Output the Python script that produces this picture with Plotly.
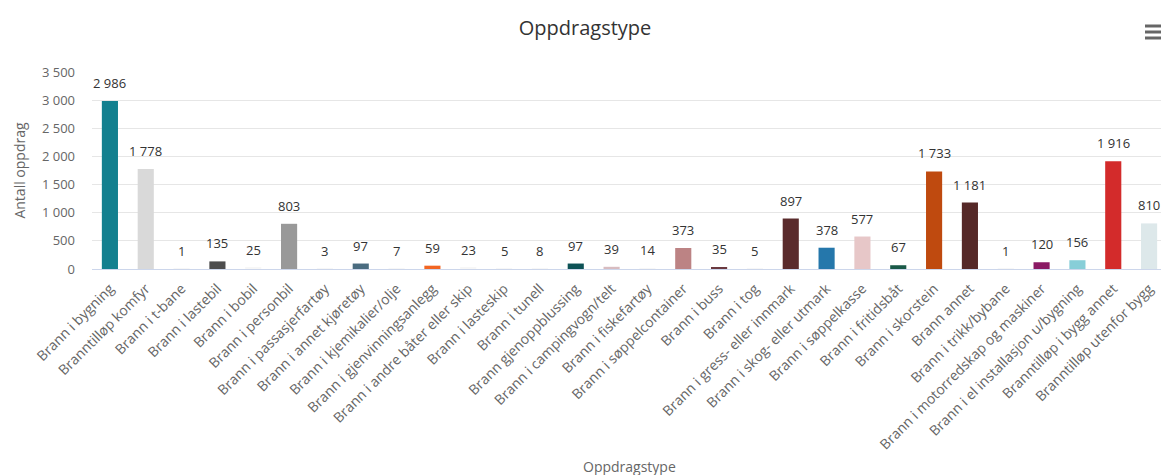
import plotly.graph_objects as go

categories = [
    "Brann i bygning", "Branntilløp komfyr", "Brann i t-bane", "Brann i lastebil",
    "Brann i bobil", "Brann i personbil", "Brann i passasjerfartøy", "Brann i annet kjøretøy",
    "Brann i kjemikalier/olje", "Brann i gjenvinningsanlegg", "Brann i andre båter eller skip",
    "Brann i lasteskip", "Brann i tunell", "Brann gjenoppblussing", "Brann i campingvogn/telt",
    "Brann i fiskefartøy", "Brann i søppelcontainer", "Brann i buss", "Brann i tog",
    "Brann i gress- eller innmark", "Brann i skog- eller utmark", "Brann i søppelkasse",
    "Brann i fritidsbåt", "Brann i skorstein", "Brann annet", "Brann i trikk/bybane",
    "Brann i motorredskap og maskiner", "Brann i el installasjon u/bygning",
    "Branntilløp i bygg annet", "Branntilløp utenfor bygg",
]
values = [2986, 1778, 1, 135, 25, 803, 3, 97, 7, 59, 23, 5, 8, 97, 39, 14, 373, 35, 5,
          897, 378, 577, 67, 1733, 1181, 1, 120, 156, 1916, 810]
colors = ["#13808f", "#d9d9d9", "#f7f7f7", "#4d4d4d", "#f7f7f7", "#999999", "#f7f7f7",
          "#4a6c80", "#f7f7f7", "#f26522", "#f7f7f7", "#f7f7f7", "#f7f7f7", "#0d5256",
          "#d8bcc0", "#f7f7f7", "#bc8384", "#6b3a40", "#f7f7f7", "#5a2b2c", "#2577ab",
          "#e7c7c8", "#1a5a48", "#bf4a0f", "#552827", "#f7f7f7", "#8b1a64", "#87ced8",
          "#d32b2b", "#dde8ea"]

def fmt(v):
    return f"{v:,}".replace(",", "\u00a0")

labels = [fmt(v) for v in values]

# the page adds an 8px body margin, so the figure is offset by 8px
W, H = 1161, 467
PL, PT, PR, PB = 84, 64, 2, 206

fig = go.Figure(go.Bar(
    x=categories, y=values, marker=dict(color=colors, line=dict(width=0)),
    hovertext=labels,
))

fig.update_layout(
    width=W, height=H,
    margin=dict(l=PL, r=PR, t=PT, b=PB, autoexpand=False),
    paper_bgcolor="white", plot_bgcolor="white",
    bargap=0.55, showlegend=False,
    font=dict(family="Open Sans, sans-serif", color="#666666"),
    title=dict(text="Oppdragstype", x=577 / W, xanchor="center", xref="container",
               yref="container", y=1 - 20 / H, yanchor="middle",
               font=dict(size=20, color="#333333")),
    xaxis=dict(tickangle=-45, tickfont=dict(size=14, color="#666666"), automargin=False,
               showline=True, linecolor="#ccd6eb", linewidth=1, ticks="",
               ticklabelstandoff=5,
               range=[-0.5, len(categories) - 0.5]),
    yaxis=dict(range=[0, 3500], dtick=500, showgrid=True, gridcolor="#e6e6e6",
               zeroline=False, tickfont=dict(size=13, color="#666666"), automargin=False,
               tickformat=",d", ticklabelstandoff=16,
               title=dict(text="Antall oppdrag", font=dict(size=14, color="#666666"), standoff=12)),
    separators=". ",
)

for cat, val, lab in zip(categories, values, labels):
    fig.add_annotation(x=cat, y=val, text=lab, showarrow=False, xanchor="center",
                       yanchor="bottom", yshift=7,
                       font=dict(family="Open Sans, sans-serif", size=13, color="#333333"))

fig.add_annotation(text="Oppdragstype", xref="paper", yref="paper", x=0.5, y=-1.005,
                   showarrow=False, xanchor="center", yanchor="middle",
                   font=dict(size=14, color="#666666"))

PW, PH = W - PL - PR, H - PT - PB
for yy in [18, 24, 30]:
    fig.add_shape(type="line", xref="paper", yref="paper",
                  x0=(1137 - PL) / PW, x1=(1157 - PL) / PW,
                  y0=(H - PB - yy) / PH, y1=(H - PB - yy) / PH,
                  line=dict(color="#666666", width=3))

fig.write_html("out.html")
